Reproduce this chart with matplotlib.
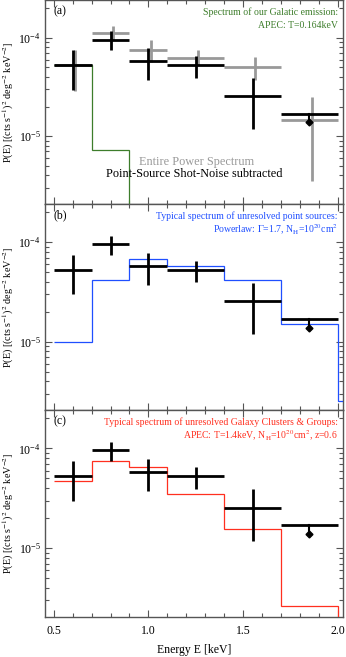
import numpy as np
import matplotlib
matplotlib.use("Agg")
import matplotlib.pyplot as plt
from matplotlib.ticker import LogLocator, MultipleLocator, NullFormatter

plt.rcParams['font.family'] = ['Liberation Serif', 'DejaVu Serif']
plt.rcParams['mathtext.fontset'] = 'stix'

# energy bins [keV]
bin_lo = np.array([0.5, 0.7, 0.9, 1.1, 1.4, 1.7])
bin_hi = np.array([0.7, 0.9, 1.1, 1.4, 1.7, 2.0])
e_mid = np.array([0.6, 0.8, 1.0, 1.25, 1.55, 1.85])

# point-source shot-noise subtracted (black); last bin is an upper limit
sub_val = np.array([5.3e-5, 9.6e-5, 5.8e-5, 5.3e-5, 2.55e-5, 1.7e-5])
sub_lo = np.array([2.98e-5, 7.5e-5, 3.7e-5, 3.95e-5, 1.19e-5])
sub_hi = np.array([7.5e-5, 1.16e-4, 7.8e-5, 6.5e-5, 3.9e-5])
sub_ul_arrow = 1.38e-5

# entire power spectrum (gray)
tot_val = np.array([5.3e-5, 1.12e-4, 7.6e-5, 6.3e-5, 5.1e-5, 1.46e-5])
tot_lo = np.array([2.9e-5, 9.4e-5, 5.7e-5, 5.3e-5, 3.75e-5, 3.47e-6])
tot_hi = np.array([7.5e-5, 1.33e-4, 9.55e-5, 7.6e-5, 6.4e-5, 2.51e-5])

# model spectra (step functions)
gal_edges = [0.5, 0.7, 0.9, 2.0]
gal_model = [5.35e-5, 7.2e-6, 1e-9]
pl_edges = [0.5, 0.7, 0.9, 1.1, 1.4, 1.7, 2.0, 2.2]
pl_model = [9.9e-6, 4.14e-5, 6.8e-5, 5.7e-5, 4.14e-5, 1.51e-5, 2.5e-6]
cl_edges = [0.5, 0.7, 0.9, 1.1, 1.4, 1.7, 2.0, 2.2]
cl_model = [4.76e-5, 7.45e-5, 6.44e-5, 3.52e-5, 1.56e-5, 2.64e-6, 1e-9]

green = '#3d7d2b'
blue = '#1f4fff'
red = '#ff2f1f'
spine_c = '#555555'

W, H = 346, 657
fig = plt.figure(figsize=(W / 100, H / 100), dpi=100)
left, right = 45 / W, 343 / W
bounds = [(0, 204), (204, 410), (410, 617)]
axes = []
for top, bot in bounds:
    ax = fig.add_axes([left, 1 - bot / H, right - left, (bot - top) / H])
    axes.append(ax)


def draw_data(ax, gray=False):
    xe = [e_mid - bin_lo, bin_hi - e_mid]
    if gray:
        dx = 0.012
        ax.errorbar(e_mid + dx, tot_val, yerr=[tot_val - tot_lo, tot_hi - tot_val],
                    xerr=[xe[0] + dx, xe[1] - dx], fmt='none', ecolor='#999999',
                    elinewidth=2.0, capsize=0, zorder=2)
    n = len(sub_lo)
    ax.errorbar(e_mid[:n], sub_val[:n], yerr=[sub_val[:n] - sub_lo, sub_hi - sub_val[:n]],
                xerr=[xe[0][:n], xe[1][:n]], fmt='none', ecolor='black',
                elinewidth=2.0, capsize=0, zorder=4)
    # upper limit
    ax.errorbar(e_mid[n:], sub_val[n:], xerr=[xe[0][n:], xe[1][n:]], fmt='none',
                ecolor='black', elinewidth=2.0, capsize=0, zorder=4)
    ax.plot([e_mid[n], e_mid[n]], [sub_val[n], sub_ul_arrow], color='black', lw=1.5, zorder=4)
    ax.plot([e_mid[n]], [sub_ul_arrow], marker='D', ms=3.5, color='black', zorder=4)


axa, axb, axc = axes
draw_data(axa, gray=True)
axa.stairs(gal_model, gal_edges, baseline=None, color=green, lw=0.9, zorder=3)
draw_data(axb)
axb.stairs(pl_model, pl_edges, baseline=None, color=blue, lw=0.9, zorder=3)
draw_data(axc)
axc.stairs(cl_model, cl_edges, baseline=None, color=red, lw=0.9, zorder=3)

axa.text(0.51, 0.205, 'Entire Power Spectrum', transform=axa.transAxes, ha='center',
         va='center', color='#999999', fontsize=8.8)
axa.text(0.5, 0.145, 'Point-Source Shot-Noise subtracted', transform=axa.transAxes,
         ha='center', va='center', color='black', fontsize=8.8)

notes = [
    ('(a)', 'Spectrum of our Galatic emission:', 'APEC: T=0.164keV', green),
    ('(b)', 'Typical spectrum of unresolved point sources:',
     r'Powerlaw: $\Gamma$=1.7, N$_{\rm H}$=10$^{20}$cm$^2$', blue),
    ('(c)', 'Typical spectrum of unresolved Galaxy Clusters & Groups:',
     r'APEC: T=1.4keV, N$_{\rm H}$=10$^{20}$cm$^2$, z=0.6', red),
]

for i, ax in enumerate(axes):
    lab, l1, l2, col = notes[i]
    ax.set_yscale('log')
    ax.set_xlim(0.454, 2.028)
    ax.set_ylim(2.05e-6, 2.42e-4)
    ax.text(0.03, 0.945, lab, transform=ax.transAxes, fontsize=8.5, va='center')
    ax.text(0.983, 0.94, l1, transform=ax.transAxes, fontsize=7.0, color=col,
            ha='right', va='center')
    ax.text(0.983, 0.875, l2, transform=ax.transAxes, fontsize=7.0, color=col,
            ha='right', va='center')
    ax.xaxis.set_major_locator(MultipleLocator(0.5))
    ax.xaxis.set_minor_locator(MultipleLocator(0.1))
    ax.yaxis.set_major_locator(LogLocator(base=10, numticks=10))
    ax.yaxis.set_minor_locator(LogLocator(base=10, subs=np.arange(2, 10), numticks=10))
    ax.yaxis.set_minor_formatter(NullFormatter())
    ax.tick_params(which='both', direction='in', top=True, right=True,
                   color=spine_c, labelsize=8.5, pad=3)
    ax.tick_params(axis='x', pad=6)
    ax.tick_params(which='major', length=5, width=0.8)
    ax.tick_params(which='minor', length=3, width=0.8)
    for s in ax.spines.values():
        s.set_color(spine_c)
        s.set_linewidth(1.0)
    ax.set_ylabel(r'P(E) [(cts s$^{-1}$)$^2$ deg$^{-2}$ keV$^{-2}$]', fontsize=7.3)
    ax.yaxis.set_label_coords(-0.098, 0.5)
    if i < 2:
        ax.tick_params(labelbottom=False)

axc.set_xlabel('Energy E [keV]', fontsize=8.5, labelpad=5)
axc.xaxis.set_major_formatter(matplotlib.ticker.FormatStrFormatter('%.1f'))

fig.savefig('out.png', dpi=100)
